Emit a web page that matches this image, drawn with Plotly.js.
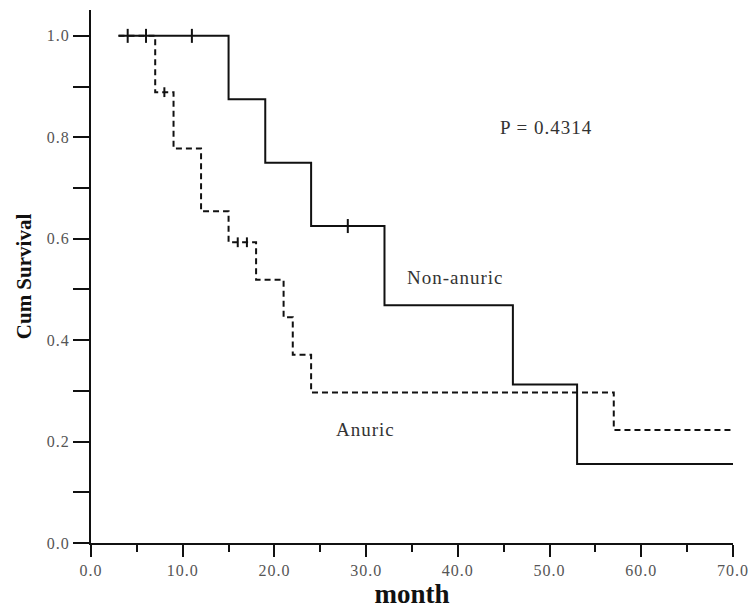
<!DOCTYPE html>
<html>
<head>
<meta charset="utf-8">
<script src="https://cdn.plot.ly/plotly-3.0.1.min.js"></script>
<style>
  html, body { margin: 0; padding: 0; background: #fff; }
  #chart { width: 751px; height: 612px; }
  #chart .xtick text, #chart .ytick text, #chart .annotation-text { letter-spacing: 1px; }
</style>
</head>
<body>
<div id="chart"></div>
<script>
// Kaplan-Meier steps (month, cumulative survival)
const nonAnuricTimes = [3, 15, 19, 24, 32, 46, 53, 70];
const nonAnuricSurv = [1.0, 0.875, 0.75, 0.625, 0.469, 0.3125, 0.156, 0.156];
const nonAnuricCensorT = [4, 6, 11, 28];
const nonAnuricCensorS = [1.0, 1.0, 1.0, 0.625];

const anuricTimes = [3, 7, 9, 12, 15, 18, 21, 22, 24, 57, 70];
const anuricSurv = [1.0, 0.889, 0.778, 0.654, 0.593, 0.519, 0.445, 0.371, 0.297, 0.223, 0.223];
const anuricCensorT = [8, 16, 17];
const anuricCensorS = [0.889, 0.593, 0.593];

const xTicks = [0, 10, 20, 30, 40, 50, 60, 70];
const yTicks = [0, 0.2, 0.4, 0.6, 0.8, 1.0];

const serif = 'Liberation Serif, Times New Roman, serif';

const traces = [
  {
    x: anuricTimes, y: anuricSurv, mode: 'lines', name: 'Anuric',
    line: { shape: 'hv', color: '#111', width: 2, dash: '6px,4px' }
  },
  {
    x: nonAnuricTimes, y: nonAnuricSurv, mode: 'lines', name: 'Non-anuric',
    line: { shape: 'hv', color: '#111', width: 2 }
  },
  {
    x: anuricCensorT, y: anuricCensorS, mode: 'markers', name: 'Anuric censored',
    marker: { symbol: 'line-ns', size: 7, line: { width: 2, color: '#111' } }
  },
  {
    x: nonAnuricCensorT, y: nonAnuricCensorS, mode: 'markers', name: 'Non-anuric censored',
    marker: { symbol: 'line-ns', size: 10, line: { width: 2, color: '#111' } }
  }
];

const layout = {
  width: 751,
  height: 612,
  margin: { l: 91, r: 18, t: 10, b: 69 },
  paper_bgcolor: '#fff',
  plot_bgcolor: '#fff',
  showlegend: false,
  font: { family: serif, color: '#555', size: 16 },
  xaxis: {
    range: [0, 70],
    tickvals: xTicks,
    ticktext: xTicks.map(v => v.toFixed(1)),
    ticks: 'outside', ticklen: 12, tickwidth: 2, tickcolor: '#111',
    minor: { dtick: 5, ticks: 'outside', ticklen: 7, tickwidth: 2, tickcolor: '#111' },
    showline: true, linecolor: '#111', linewidth: 2,
    showgrid: false, zeroline: false, automargin: false,
    tickfont: { family: serif, size: 16, color: '#555' },
    title: { text: 'month', font: { family: serif, size: 27, color: '#111', weight: 'bold' }, standoff: 6 }
  },
  yaxis: {
    range: [0, 1.051],
    tickvals: yTicks,
    ticktext: yTicks.map(v => v.toFixed(1)),
    ticks: 'outside', ticklen: 16, tickwidth: 2, tickcolor: '#111',
    minor: { dtick: 0.1, ticks: 'outside', ticklen: 16, tickwidth: 2, tickcolor: '#111' },
    showline: true, linecolor: '#111', linewidth: 2,
    showgrid: false, zeroline: false, automargin: false,
    tickfont: { family: serif, size: 16, color: '#555' },
    title: { text: 'Cum Survival', font: { family: serif, size: 21, color: '#111', weight: 'bold' }, standoff: 12 }
  },
  annotations: [
    { x: 49.7, y: 0.82, text: 'P = 0.4314', showarrow: false, font: { family: serif, size: 19, color: '#333' } },
    { x: 39.7, y: 0.523, text: 'Non-anuric', showarrow: false, font: { family: serif, size: 19, color: '#333' } },
    { x: 29.9, y: 0.223, text: 'Anuric', showarrow: false, font: { family: serif, size: 19, color: '#333' } }
  ]
};

Plotly.newPlot('chart', traces, layout, { displayModeBar: false, staticPlot: true });
</script>
</body>
</html>
